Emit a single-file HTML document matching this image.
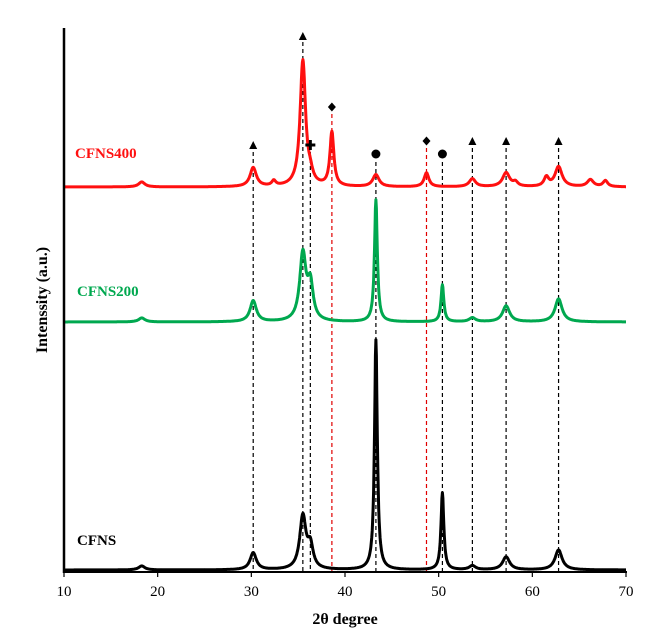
<!DOCTYPE html>
<html><head><meta charset="utf-8"><style>
body{margin:0;background:#fff}
svg{display:block;font-family:"Liberation Serif",serif}
</style></head><body>
<svg id="c" width="652" height="640" viewBox="0 0 652 640"></svg>
<script>
const xTicks=[10,20,30,40,50,60,70];
const names=["CFNS400","CFNS200","CFNS"];
const colors=["#ff1010","#00a84f","#000000"];
const baselines=[187,322,570];
const labelY=[158,296,545];
// peaks: [2theta, height(px), half-width(deg)]
const peaks400=[[18.3,5,0.4],[30.2,19,0.4],[32.4,5,0.25],[35.5,126,0.35],[36.3,8,0.3],[38.6,54,0.25],[43.3,12,0.4],[48.7,14,0.3],[53.6,8,0.4],[57.2,14,0.45],[58.2,4,0.3],[61.5,9,0.3],[62.8,20,0.45],[66.2,7,0.4],[67.8,6,0.3]];
const peaks200=[[18.3,4,0.4],[30.2,21,0.4],[35.5,67,0.4],[36.3,35,0.35],[43.3,122,0.18],[50.4,37,0.18],[53.6,4,0.4],[57.2,16,0.45],[62.8,23,0.45]];
const peaksCFNS=[[18.3,4,0.4],[30.2,17,0.4],[35.5,53,0.4],[36.3,22,0.35],[43.3,230,0.18],[50.4,77,0.18],[53.6,4,0.4],[57.2,13,0.45],[62.8,20,0.45]];
const series=[peaks400,peaks200,peaksCFNS];
const refLines=[[30.2,152,"#000"],[35.5,42,"#000"],[36.3,152,"#000"],[38.6,114,"#e00000"],[43.3,162,"#000"],[48.7,148,"#e00000"],[50.4,162,"#000"],[53.6,148,"#000"],[57.2,148,"#000"],[62.8,148,"#000"]];
const markers=[["tri",30.2,145],["tri",35.5,36],["plus",36.3,145],["dia",38.6,107],["circ",43.3,154],["dia",48.7,141],["circ",50.4,154],["tri",53.6,141],["tri",57.2,141],["tri",62.8,141]];
const X=v=>64+(v-10)*(626-64)/60;
const svg=document.getElementById('c');
const NS="http://www.w3.org/2000/svg";
function mk(t,a,p){const e=document.createElementNS(NS,t);for(const k in a)e.setAttribute(k,a[k]);(p||svg).appendChild(e);return e;}
refLines.forEach(r=>{const e=mk('line',{x1:X(r[0]),x2:X(r[0]),y1:r[1],y2:572,stroke:r[2],'stroke-width':1.2,'stroke-dasharray':'4,3'});

});
series.forEach((pk,i)=>{let d="";for(let t=10;t<=70.001;t+=0.05){let y=baselines[i];pk.forEach(p=>{const z=(t-p[0])/p[2];y-=p[1]/(1+z*z);});d+=(d?"L":"M")+X(t).toFixed(1)+","+y.toFixed(1);}
const e=mk('path',{d:d,fill:'none',stroke:colors[i],'stroke-width':3,'stroke-linejoin':'round'});


const tx=mk('text',{x:i==0?75:77,y:labelY[i],fill:colors[i],'font-size':15,'font-weight':'bold'});tx.textContent=names[i];

});
markers.forEach(m=>{const x=X(m[1]),y=m[2];let e;
if(m[0]=="tri")e=mk('polygon',{points:`${x-4},${y+4} ${x+4},${y+4} ${x},${y-4}`,fill:'#000'});
else if(m[0]=="dia")e=mk('polygon',{points:`${x},${y-4.5} ${x+4},${y} ${x},${y+4.5} ${x-4},${y}`,fill:'#000'});
else if(m[0]=="circ")e=mk('circle',{cx:x,cy:y,r:4.5,fill:'#000'});
else e=mk('path',{d:`M${x-5},${y}H${x+5}M${x},${y-5}V${y+5}`,stroke:'#000','stroke-width':3});

});
let a=mk('line',{x1:64,x2:64,y1:28,y2:573,stroke:'#000','stroke-width':2.5});


a=mk('line',{x1:63,x2:627,y1:572,y2:572,stroke:'#000','stroke-width':2});


xTicks.forEach(v=>{const l=mk('line',{x1:X(v),x2:X(v),y1:572,y2:577,stroke:'#000','stroke-width':1.2});


const t=mk('text',{x:X(v),y:596,'text-anchor':'middle','font-size':15});t.textContent=v;

});
let t=mk('text',{x:345,y:624,'text-anchor':'middle','font-size':16,'font-weight':'bold'});t.textContent="2θ degree";


t=mk('text',{x:0,y:0,'text-anchor':'middle','font-size':16,'font-weight':'bold',transform:'translate(47,300) rotate(-90)'});t.textContent="Intenssity (a.u.)";


</script>
</body></html>
